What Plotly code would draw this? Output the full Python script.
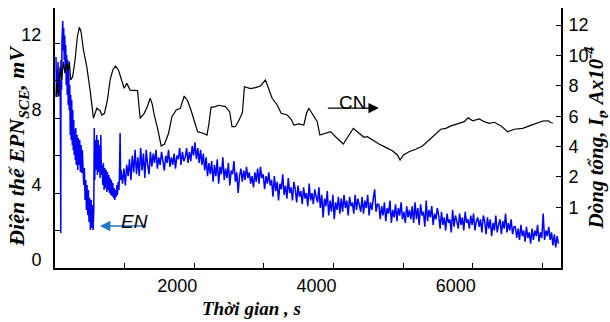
import plotly.graph_objects as go

# ---------------- data ----------------
# EN (electrochemical potential noise, mV) - early, irregularly sampled part
en_time_early = [14, 22, 29, 36, 43, 50, 58, 65, 75, 81, 83, 86, 94, 101, 111, 118, 125, 132, 140, 147,
                 154, 161, 168, 176, 183, 190, 197, 204, 212, 219, 226, 233, 240, 248, 255, 262, 269, 276,
                 283, 291, 298, 306, 317, 327, 335, 345, 355, 364, 374, 384, 393, 403, 413, 422, 432, 442,
                 451, 460, 471, 479, 489, 499, 508, 518, 528, 537, 547, 557, 564, 571, 580, 590, 600, 609,
                 619, 629, 637, 648, 658, 666, 676, 686, 695, 705, 715, 724, 734, 744, 753, 763, 773, 781,
                 791, 802, 810, 820, 830, 839, 849, 859, 868, 878, 888, 897, 907, 917, 925, 935, 943, 950]
en_mv_early = [11.25, 9.12, 10.56, 9.39, 10.99, 9.6, 10.3, 9.2, 10.0, 1.87, 1.87, 11.1, 9.5, 12.2, 13.17,
               11.6, 12.8, 11.1, 12.4, 10.56, 11.9, 9.76, 11.36, 9.23, 11.1, 8.69, 10.56, 8.43, 9.76, 7.09,
               9.23, 6.83, 8.96, 6.56, 8.43, 6.29, 7.89, 6.03, 7.36, 5.76, 7.47, 5.49, 7.09, 5.23, 6.93,
               5.49, 6.83, 5.12, 6.56, 5.07, 6.29, 5.23, 4.43, 5.33, 3.63, 4.69, 3.09, 4.43, 2.83, 4.16,
               2.45, 3.73, 2.03, 3.63, 2.13, 3.36, 2.03, 3.09, 7.47, 4.69, 6.83, 5.23, 7.09, 4.96, 6.83,
               5.12, 6.56, 4.8, 7.09, 4.96, 5.49, 4.43, 5.6, 4.16, 5.33, 4.27, 5.23, 4.05, 5.12, 4.16,
               4.96, 4.0, 4.8, 3.89, 4.69, 3.84, 4.53, 3.73, 4.27, 3.63, 4.16, 3.79, 4.43, 3.89, 4.59,
               4.16, 4.8, 7.2, 4.69, 5.23]

# EN - later part, sampled every 20 s starting at 970 s
en_late_start = 970
en_late_step = 20
en_mv_late = [
    4.5, 5.3, 4.4, 5.5, 4.9, 5.8, 4.7, 6.0, 5.1, 6.3, 5.0,
    5.9, 4.9, 6.4, 5.2, 6.1, 4.8, 6.3, 5.5, 5.0, 6.2,
    5.4, 6.1, 5.6, 6.3, 5.3, 5.9, 5.5, 6.2, 5.7, 5.2, 6.0, 5.6, 6.3, 5.4, 5.9, 5.5, 6.1, 5.3, 6.0, 5.8, 6.4, 5.5, 6.2, 5.7,
    5.9, 6.4, 5.6, 6.2, 5.7, 6.5, 6.0, 6.7, 5.8, 6.4, 5.6, 6.3, 5.5, 6.1,
    5.2, 5.9, 4.9, 5.6, 5.0,
    5.7, 4.6, 5.5, 4.9, 5.8, 4.5, 5.4, 5.0, 5.9, 4.7, 5.3, 4.8, 5.6, 4.4, 5.2, 5.0, 5.7, 4.6, 5.1,
    4.0, 4.9, 5.3, 4.6, 5.2, 4.7, 5.4, 4.8, 5.1, 4.5,
    4.9, 4.3, 5.1, 4.6, 5.3, 4.5, 5.4, 4.8, 5.0, 4.2, 4.9, 4.5, 5.1, 4.4,
    4.7, 3.8, 4.9, 4.1, 4.6, 3.6, 4.5, 4.2, 5.0, 3.9, 4.4, 3.7, 4.8, 4.0, 4.3, 3.6, 4.6,
    4.2, 3.5, 4.4, 3.8, 4.1, 3.4, 4.3, 3.7, 4.0, 3.3, 4.5, 3.6, 4.0, 3.4, 4.2, 3.8, 3.5,
    4.3, 3.2, 3.9, 2.7, 3.7, 3.3, 4.1, 2.8, 3.6, 3.0, 3.9, 2.6, 3.5, 3.1, 3.8, 2.9,
    3.7, 3.0, 3.9, 3.2, 3.6, 2.8, 3.8, 3.3, 3.5, 2.9, 3.9, 3.1, 3.7, 3.4, 3.0, 3.8, 2.9, 3.6, 3.2, 3.9, 2.8, 3.5, 3.1, 3.7, 4.2, 3.0, 3.4,
    3.4, 2.6, 3.3, 2.8, 3.5, 2.5, 3.2, 2.9, 3.6, 2.4, 3.1, 2.7, 3.4, 2.5, 3.2, 2.8, 3.5, 2.6, 3.0, 2.4, 3.3, 2.7, 3.1, 2.6,
    3.3, 2.4, 3.5, 2.6, 3.2, 2.3, 3.4, 2.8, 3.0, 2.2, 3.6, 2.5, 3.1, 2.7, 3.3, 2.3, 2.9, 2.6, 3.2,
    2.8, 2.1, 3.0, 2.3, 2.7, 2.0, 2.9, 2.4, 2.6, 1.9, 3.1, 2.2, 2.8, 2.5, 2.1, 2.9, 2.3, 2.7, 2.0, 3.0, 2.4, 2.6, 2.1, 2.8, 2.3, 2.9, 2.0, 2.5, 2.7, 2.2, 2.6, 1.9, 2.8,
    2.5, 1.8, 2.7, 2.1, 2.6, 1.7, 2.4, 2.0, 2.8, 1.9, 2.3, 2.6, 1.8, 2.5, 2.1, 2.9, 1.9, 2.4, 2.0, 2.6, 1.8, 2.2,
    2.2, 1.6, 2.1, 1.5, 2.3, 1.7, 2.0, 1.4, 2.2, 1.6, 1.9, 1.3, 2.1, 1.5, 2.0, 1.7, 2.3, 1.4, 1.9, 1.6, 2.9, 1.5, 2.0, 1.7, 2.2, 1.5,
    1.9, 1.2, 1.8, 1.1, 1.7, 1.3,
]

# CN (total current, right axis)
cn_time = [14, 24, 48, 72, 96, 120, 144, 168, 192, 206, 225, 254, 288, 321, 350, 374, 408, 456, 504, 552,
           600, 648, 672, 710, 753, 791, 830, 868, 911, 950, 993, 1031, 1079, 1185, 1223, 1281, 1329, 1367,
           1396, 1425, 1473, 1525, 1573, 1631, 1679, 1741, 1799, 1856, 1904, 1952, 2000, 2048, 2125, 2183,
           2211, 2240, 2302, 2350, 2446, 2508, 2542, 2590, 2643, 2691, 2720, 2758, 2806, 2878, 2950, 3022,
           3070, 3118, 3190, 3248, 3334, 3392, 3430, 3502, 3573, 3612, 3645, 3694, 3766, 3803, 3885, 3957,
           4029, 4140, 4206, 4284, 4341, 4437, 4485, 4557, 4653, 4749, 4845, 4917, 4955, 5003, 5084, 5180,
           5277, 5372, 5468, 5540, 5612, 5684, 5780, 5876, 5933, 5996, 6092, 6163, 6235, 6307, 6404, 6500,
           6595, 6716, 6811, 6907, 7004, 7084, 7123, 7152]
cn_val = [7.28, 8.16, 7.28, 9.26, 8.38, 9.59, 8.82, 9.48, 9.04, 9.59, 8.38, 8.60, 9.70, 11.23, 11.85, 11.56,
          10.36, 9.26, 7.72, 5.86, 6.52, 6.36, 6.08, 6.19, 7.07, 8.38, 9.04, 9.30, 9.04, 8.38, 7.84, 8.16,
          7.72, 7.68, 5.86, 6.19, 6.67, 7.18, 6.80, 6.08, 5.20, 4.04, 4.17, 4.88, 5.97, 6.41, 6.52, 7.33,
          7.02, 6.41, 5.75, 4.98, 4.88, 4.76, 5.53, 6.58, 6.63, 6.72, 6.63, 6.30, 5.31, 5.31, 5.75, 6.23,
          7.94, 7.90, 7.81, 7.88, 7.99, 8.38, 7.72, 7.18, 6.74, 6.19, 6.08, 5.80, 5.42, 5.49, 5.42, 6.19,
          6.52, 6.19, 5.64, 4.76, 4.88, 4.98, 4.65, 4.17, 4.65, 5.20, 4.98, 4.61, 4.65, 4.43, 4.17, 3.95,
          3.73, 3.45, 3.12, 3.45, 3.66, 3.82, 4.04, 4.43, 4.83, 5.14, 5.20, 5.36, 5.49, 5.64, 5.90, 5.70,
          5.82, 5.64, 5.53, 5.60, 5.36, 4.98, 5.14, 5.20, 5.36, 5.53, 5.68, 5.70, 5.57, 5.55]

x_tickvals = [1000, 2000, 3000, 4000, 5000, 6000, 7000]
x_ticktext = ["", "2000", "", "4000", "", "6000", ""]
y_tickvals = [0, 2, 4, 6, 8, 10, 12]
y_ticktext = ["0", "", "4", "", "8", "", "12"]
y2_tickvals = [12, 10, 8, 6, 4, 2, 0]
y2_ticktext = ["12", "10", "8", "6", "4", "2", "1"]

# ---------------- figure ----------------
en_time_late = [en_late_start + en_late_step * i for i in range(len(en_mv_late))]
en_time = en_time_early + en_time_late
en_mv = en_mv_early + en_mv_late

fig = go.Figure()
fig.add_trace(go.Scatter(x=en_time, y=en_mv, mode="lines",
                         line=dict(color="#0000ff", width=1.5), yaxis="y", showlegend=False))
fig.add_trace(go.Scatter(x=cn_time, y=cn_val, mode="lines",
                         line=dict(color="#000000", width=1.2), yaxis="y2", showlegend=False))

tick_font = dict(family="Liberation Sans, Arial, sans-serif", size=18, color="black")
title_font = dict(family="Liberation Serif, Times New Roman, serif", size=21, color="black")

fig.update_layout(
    width=610, height=322,
    margin=dict(l=55, r=49, t=8, b=54, pad=0),
    paper_bgcolor="white", plot_bgcolor="white",
    xaxis=dict(range=[0, 7266], tickvals=x_tickvals, ticktext=x_ticktext,
               ticks="inside", ticklen=5, tickwidth=1.2, tickcolor="black",
               showline=True, linewidth=2, linecolor="black", showgrid=False, zeroline=False,
               tickfont=tick_font, ticklabelshift=-17, ticklabelstandoff=0),
    yaxis=dict(range=[0, 13.87], tickvals=y_tickvals, ticktext=y_ticktext,
               ticks="inside", ticklen=5, tickwidth=1.2, tickcolor="black",
               showline=True, linewidth=2, linecolor="black", showgrid=False, zeroline=False,
               tickfont=tick_font, ticklabelshift=-8, ticklabelstandoff=8),
    yaxis2=dict(range=[-3.99, 13.12], tickvals=y2_tickvals, ticktext=y2_ticktext,
                overlaying="y", side="right", anchor="x",
                ticks="inside", ticklen=5, tickwidth=1.2, tickcolor="black",
                showline=True, linewidth=2, linecolor="black", showgrid=False, zeroline=False,
                tickfont=tick_font, ticklabelstandoff=2),
    annotations=[
        dict(text="<b><i>Điện thế EPN<sub>SCE</sub>, mV</i></b>", xref="paper", yref="paper",
             x=-0.073, y=0.47, textangle=-90, showarrow=False,
             font=dict(family="Liberation Serif, Times New Roman, serif", size=22, color="black"),
             xanchor="center", yanchor="middle"),
        dict(text="<b><i>Dòng tổng, I<sub>t</sub>, Ax10<sup>-4</sup></i></b>", xref="paper", yref="paper",
             x=1.068, y=0.5, textangle=-90, showarrow=False, font=title_font,
             xanchor="center", yanchor="middle"),
        dict(text="<b><i>Thời gian , s</i></b>", xref="paper", yref="paper",
             x=0.389, y=-0.154, showarrow=False,
             font=dict(family="Liberation Serif, Times New Roman, serif", size=19, color="black"),
             xanchor="center", yanchor="middle"),
        # CN arrow + label
        dict(text=" ", xref="paper", yref="paper", x=0.640, y=0.615, ax=-53, ay=0,
             showarrow=True, arrowhead=2, arrowsize=1.6, arrowwidth=1.3, arrowcolor="black",
             font=dict(size=2)),
        dict(text="CN", xref="paper", yref="paper", x=0.587, y=0.638, showarrow=False,
             font=dict(family="Liberation Sans, Arial, sans-serif", size=19, color="black"),
             xanchor="center", yanchor="middle"),
        # EN arrow + label
        dict(text=" ", xref="paper", yref="paper", x=0.0889, y=0.1615, ax=48, ay=0,
             showarrow=True, arrowhead=2, arrowsize=1.6, arrowwidth=1.3, arrowcolor="#1f78c1",
             font=dict(size=2)),
        dict(text="<i>EN</i>", xref="paper", yref="paper", x=0.158, y=0.177, showarrow=False,
             font=dict(family="Liberation Sans, Arial, sans-serif", size=19, color="black"),
             xanchor="center", yanchor="middle"),
    ],
)

fig.write_html("out.html")
